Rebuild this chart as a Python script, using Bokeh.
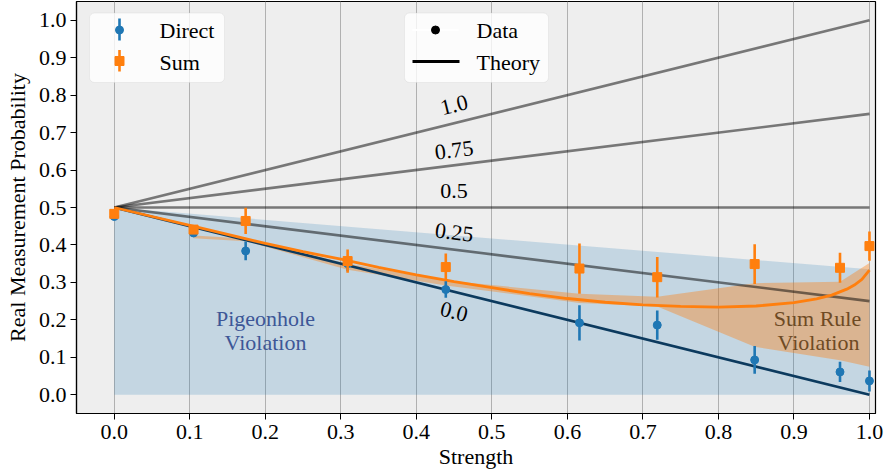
import math
from bokeh.plotting import figure
from bokeh.models import FixedTicker, BoxAnnotation, ColumnDataSource, Range1d
from bokeh.core.properties import value
from bokeh.embed import file_html
from bokeh.resources import INLINE

# ---------------- data ----------------
strength = [0.0, 0.105, 0.174, 0.309, 0.439, 0.616, 0.719, 0.848, 0.961, 1.0]
direct = [0.476, 0.432, 0.384, 0.350, 0.281, 0.192, 0.186, 0.093, 0.061, 0.037]
direct_err = [0.008, 0.010, 0.025, 0.020, 0.022, 0.047, 0.039, 0.037, 0.027, 0.028]
sum_vals = [0.483, 0.441, 0.464, 0.357, 0.341, 0.337, 0.314, 0.349, 0.339, 0.397]
sum_err = [0.010, 0.012, 0.035, 0.031, 0.036, 0.067, 0.054, 0.053, 0.040, 0.039]

curve_x = [0.0, 0.05, 0.1, 0.15, 0.2, 0.25, 0.3, 0.35, 0.4, 0.45, 0.5, 0.55, 0.6,
           0.65, 0.7, 0.75, 0.8, 0.85, 0.9, 0.93, 0.95, 0.97, 0.98, 0.99, 1.0]
curve_y = [0.5, 0.476, 0.452, 0.428, 0.404, 0.382, 0.362, 0.340, 0.320, 0.302, 0.286,
           0.270, 0.257, 0.247, 0.240, 0.236, 0.234, 0.237, 0.246, 0.256, 0.266,
           0.282, 0.293, 0.308, 0.333]

band_x = [0.105, 0.174, 0.309, 0.439, 0.616, 0.719, 0.848, 0.961, 1.0]
band_upper = [0.425, 0.417, 0.350, 0.305, 0.270, 0.262, 0.298, 0.302, 0.352]
band_lower = [0.418, 0.410, 0.334, 0.292, 0.245, 0.236, 0.128, 0.092, 0.075]

pigeon_x = [0.0, 1.0]
pigeon_upper = [0.5, 0.335]
pigeon_lower = [0.0, 0.0]

theory_x = [0.0, 1.0]
theory_start = 0.5
theory_ends = [1.0, 0.75, 0.5, 0.25, 0.0]
theory_labels = ["1.0", "0.75", "0.5", "0.25", "0.0"]

ticks = [0.0, 0.1, 0.2, 0.3, 0.4, 0.5, 0.6, 0.7, 0.8, 0.9, 1.0]
tick_labels = ["0.0", "0.1", "0.2", "0.3", "0.4", "0.5", "0.6", "0.7", "0.8", "0.9", "1.0"]

# ---------------- layout ----------------
FONT = "Liberation Serif"
W, H = 886, 475
FL, FR, FT, FB = 76, 875, 1, 413
X0, X1 = -0.05, 1.008
Y0, Y1 = -0.05, 1.05
BLUE = "#1f77b4"
ORANGE = "#ff7f0e"


def dx(px):
    return X0 + (px - FL) / (FR - FL) * (X1 - X0)


def dy(py):
    return Y1 - (py - FT) / (FB - FT) * (Y1 - Y0)


p = figure(width=W, height=H, x_range=Range1d(X0, X1), y_range=Range1d(Y0, Y1),
           output_backend="svg", toolbar_location=None,
           min_border_left=FL, min_border_right=W - FR, min_border_top=FT,
           min_border_bottom=H - FB)
p.background_fill_color = "#eeeeee"
p.border_fill_color = "white"
p.outline_line_color = "black"
p.outline_line_width = 1.2
p.ygrid.visible = False
p.xgrid.grid_line_color = "#b0b0b0"
p.xgrid.grid_line_width = 1

for ax in (p.xaxis, p.yaxis):
    ax.ticker = FixedTicker(ticks=ticks)
    ax.major_label_overrides = {t: l for t, l in zip(ticks, tick_labels)}
    ax.axis_line_color = "black"
    ax.axis_line_width = 1.2
    ax.major_tick_out = 6
    ax.major_tick_in = 0
    ax.minor_tick_out = 0
    ax.minor_tick_in = 0
    ax.major_tick_line_color = "black"
    ax.major_label_text_font = FONT
    ax.major_label_text_font_size = "22px"
    ax.major_label_text_color = "black"
    ax.axis_label_text_font = FONT
    ax.axis_label_text_font_size = "22px"
    ax.axis_label_text_font_style = "normal"
    ax.axis_label_text_color = "black"
p.xgrid.ticker = FixedTicker(ticks=ticks)
p.xaxis.axis_label = "Strength"
p.yaxis.axis_label = "Real Measurement Probability"
p.xaxis.major_label_standoff = 5
p.xaxis.axis_label_standoff = 2
p.yaxis.major_label_standoff = 4
p.yaxis.axis_label_standoff = 6

# ---------------- fills ----------------
p.varea(x=pigeon_x, y1=pigeon_lower, y2=pigeon_upper, fill_color=BLUE, fill_alpha=0.2)
p.varea(x=band_x, y1=band_lower, y2=band_upper, fill_color=ORANGE, fill_alpha=0.38)

# ---------------- theory lines ----------------
for end in theory_ends:
    if end == 0.0:
        p.line(theory_x, [theory_start, end], line_color="#0c3a5e", line_width=2.6)
    else:
        p.line(theory_x, [theory_start, end], line_color="black", line_alpha=0.5,
               line_width=2.6)

p.line(curve_x, curve_y, line_color=ORANGE, line_width=2.8)

# ---------------- error bars ----------------
p.segment(x0=strength, x1=strength,
          y0=[v - e for v, e in zip(direct, direct_err)],
          y1=[v + e for v, e in zip(direct, direct_err)],
          line_color=BLUE, line_width=2.6)
p.scatter(strength, direct, marker="circle", size=8, fill_color=BLUE, line_color=BLUE)
p.segment(x0=strength, x1=strength,
          y0=[v - e for v, e in zip(sum_vals, sum_err)],
          y1=[v + e for v, e in zip(sum_vals, sum_err)],
          line_color=ORANGE, line_width=2.6)
p.scatter(strength, sum_vals, marker="square", size=9, fill_color=ORANGE, line_color=ORANGE)

# ---------------- theory labels ----------------
ppx = (FR - FL) / (X1 - X0)
ppy = (FB - FT) / (Y1 - Y0)
lab_x = 0.45
lab_src = ColumnDataSource(dict(
    x=[lab_x] * len(theory_ends),
    y=[theory_start + (e - theory_start) * lab_x for e in theory_ends],
    text=theory_labels,
    angle=[math.atan((e - theory_start) * ppy / ppx) for e in theory_ends],
    yoff=[-18, -15, -17, -17, 20],
))
p.text(x="x", y="y", text="text", angle="angle", y_offset="yoff", source=lab_src,
       text_font=value(FONT), text_font_size="22px",
       text_align="center", text_baseline="middle", text_color="black")

# ---------------- region annotations ----------------
p.text(x=[dx(265), dx(265)], y=[dy(318), dy(342)], text=["Pigeonhole", "Violation"],
       text_font=value(FONT), text_font_size="22px", text_align="center",
       text_baseline="middle", text_color="#3d5797")
p.text(x=[dx(817), dx(818)], y=[dy(318), dy(342)], text=["Sum Rule", "Violation"],
       text_font=value(FONT), text_font_size="22px", text_align="center",
       text_baseline="middle", text_color="#6e4a24")

# ---------------- legends (drawn manually) ----------------
for l, r in ((89, 224), (404, 548)):
    p.add_layout(BoxAnnotation(left=dx(l), right=dx(r), top=dy(12.5), bottom=dy(82),
                               fill_color="white", fill_alpha=0.8, line_color="#cccccc",
                               line_width=1, border_radius=5, level="underlay"))

# legend 1: Direct / Sum
p.segment(x0=[dx(119)], x1=[dx(119)], y0=[dy(18)], y1=[dy(40)], line_color=BLUE, line_width=2.6)
p.scatter([dx(119)], [dy(29.5)], marker="circle", size=8, fill_color=BLUE, line_color=BLUE)
p.segment(x0=[dx(119)], x1=[dx(119)], y0=[dy(49.5)], y1=[dy(71)], line_color=ORANGE, line_width=2.6)
p.scatter([dx(119)], [dy(60.5)], marker="square", size=9, fill_color=ORANGE, line_color=ORANGE)
p.text(x=[dx(159), dx(159)], y=[dy(30), dy(61.5)], text=["Direct", "Sum"],
       text_font=value(FONT), text_font_size="22px", text_align="left",
       text_baseline="middle", text_color="black")

# legend 2: Data / Theory
p.segment(x0=[dx(412)], x1=[dx(458)], y0=[dy(29.5)], y1=[dy(29.5)], line_color="white", line_width=2)
p.scatter([dx(435)], [dy(29.5)], marker="circle", size=8, fill_color="black", line_color="black")
p.segment(x0=[dx(412)], x1=[dx(459)], y0=[dy(61)], y1=[dy(61)], line_color="black", line_width=2.8)
p.text(x=[dx(476), dx(476)], y=[dy(30), dy(61.5)], text=["Data", "Theory"],
       text_font=value(FONT), text_font_size="22px", text_align="left",
       text_baseline="middle", text_color="black")

open("out.html", "w").write(file_html(p, INLINE))
